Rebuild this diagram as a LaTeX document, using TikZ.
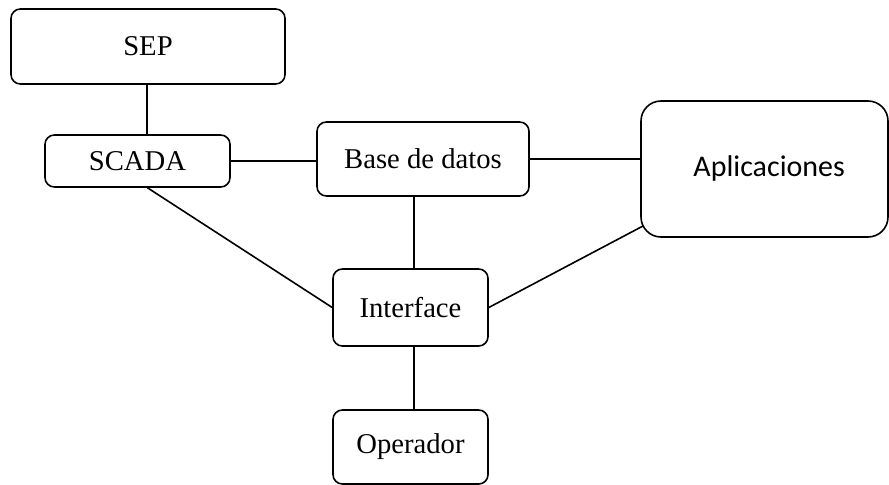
\documentclass[tikz,border=0pt]{standalone}
\usepackage{fontspec}
\setmainfont{Liberation Serif}
\newfontfamily\calibri{Carlito}
\begin{document}
\begin{tikzpicture}[x=0.75pt,y=-0.75pt,
  box/.style={draw,line width=1.2pt,rounded corners=7pt,inner sep=0pt,
    font=\fontsize{21.5}{24}\selectfont},
  link/.style={line width=1.2pt}]
\useasboundingbox (0,0) rectangle (889,485);

% boxes
\node[box,minimum width=205.5pt,minimum height=56.25pt] (sep) at (148,46.5) {SEP};
\node[box,minimum width=138.75pt,minimum height=39pt] (scada) at (137.5,161) {SCADA};
\node[box,minimum width=159pt,minimum height=55.5pt] (base) at (423,159) {Base de datos};
\node[box,rounded corners=15pt,minimum width=185.25pt,minimum height=102pt,
  font=\calibri\fontsize{22.5}{24}\selectfont] (apl) at (764.5,169) {\hspace{7pt}Aplicaciones};
\node[box,minimum width=116.25pt,minimum height=57.75pt] (intf) at (410.5,307.5) {Interface};
\node[box,minimum width=116.25pt,minimum height=55.5pt] (oper) at (410.5,447) {Operador};

% connector end points off the box centres
\coordinate (sepb) at ([xshift=-0.75pt]sep.south);
\coordinate (scadab) at ([xshift=7.5pt]scada.south);
\coordinate (baseb) at ([xshift=-6.75pt]base.south);
\coordinate (aplc) at (643,226);

% connectors
\draw[link] (sepb) -- (sepb |- scada.north);
\draw[link] (scada.east) -- (scada.east -| base.west);
\draw[link] (base.east) -- (base.east -| apl.west);
\draw[link] (baseb) -- (baseb |- intf.north);
\draw[link] (scadab) -- (intf.west);
\draw[link] (intf.east) -- (aplc);
\draw[link] (baseb |- intf.south) -- (baseb |- oper.north);
\end{tikzpicture}
\end{document}
